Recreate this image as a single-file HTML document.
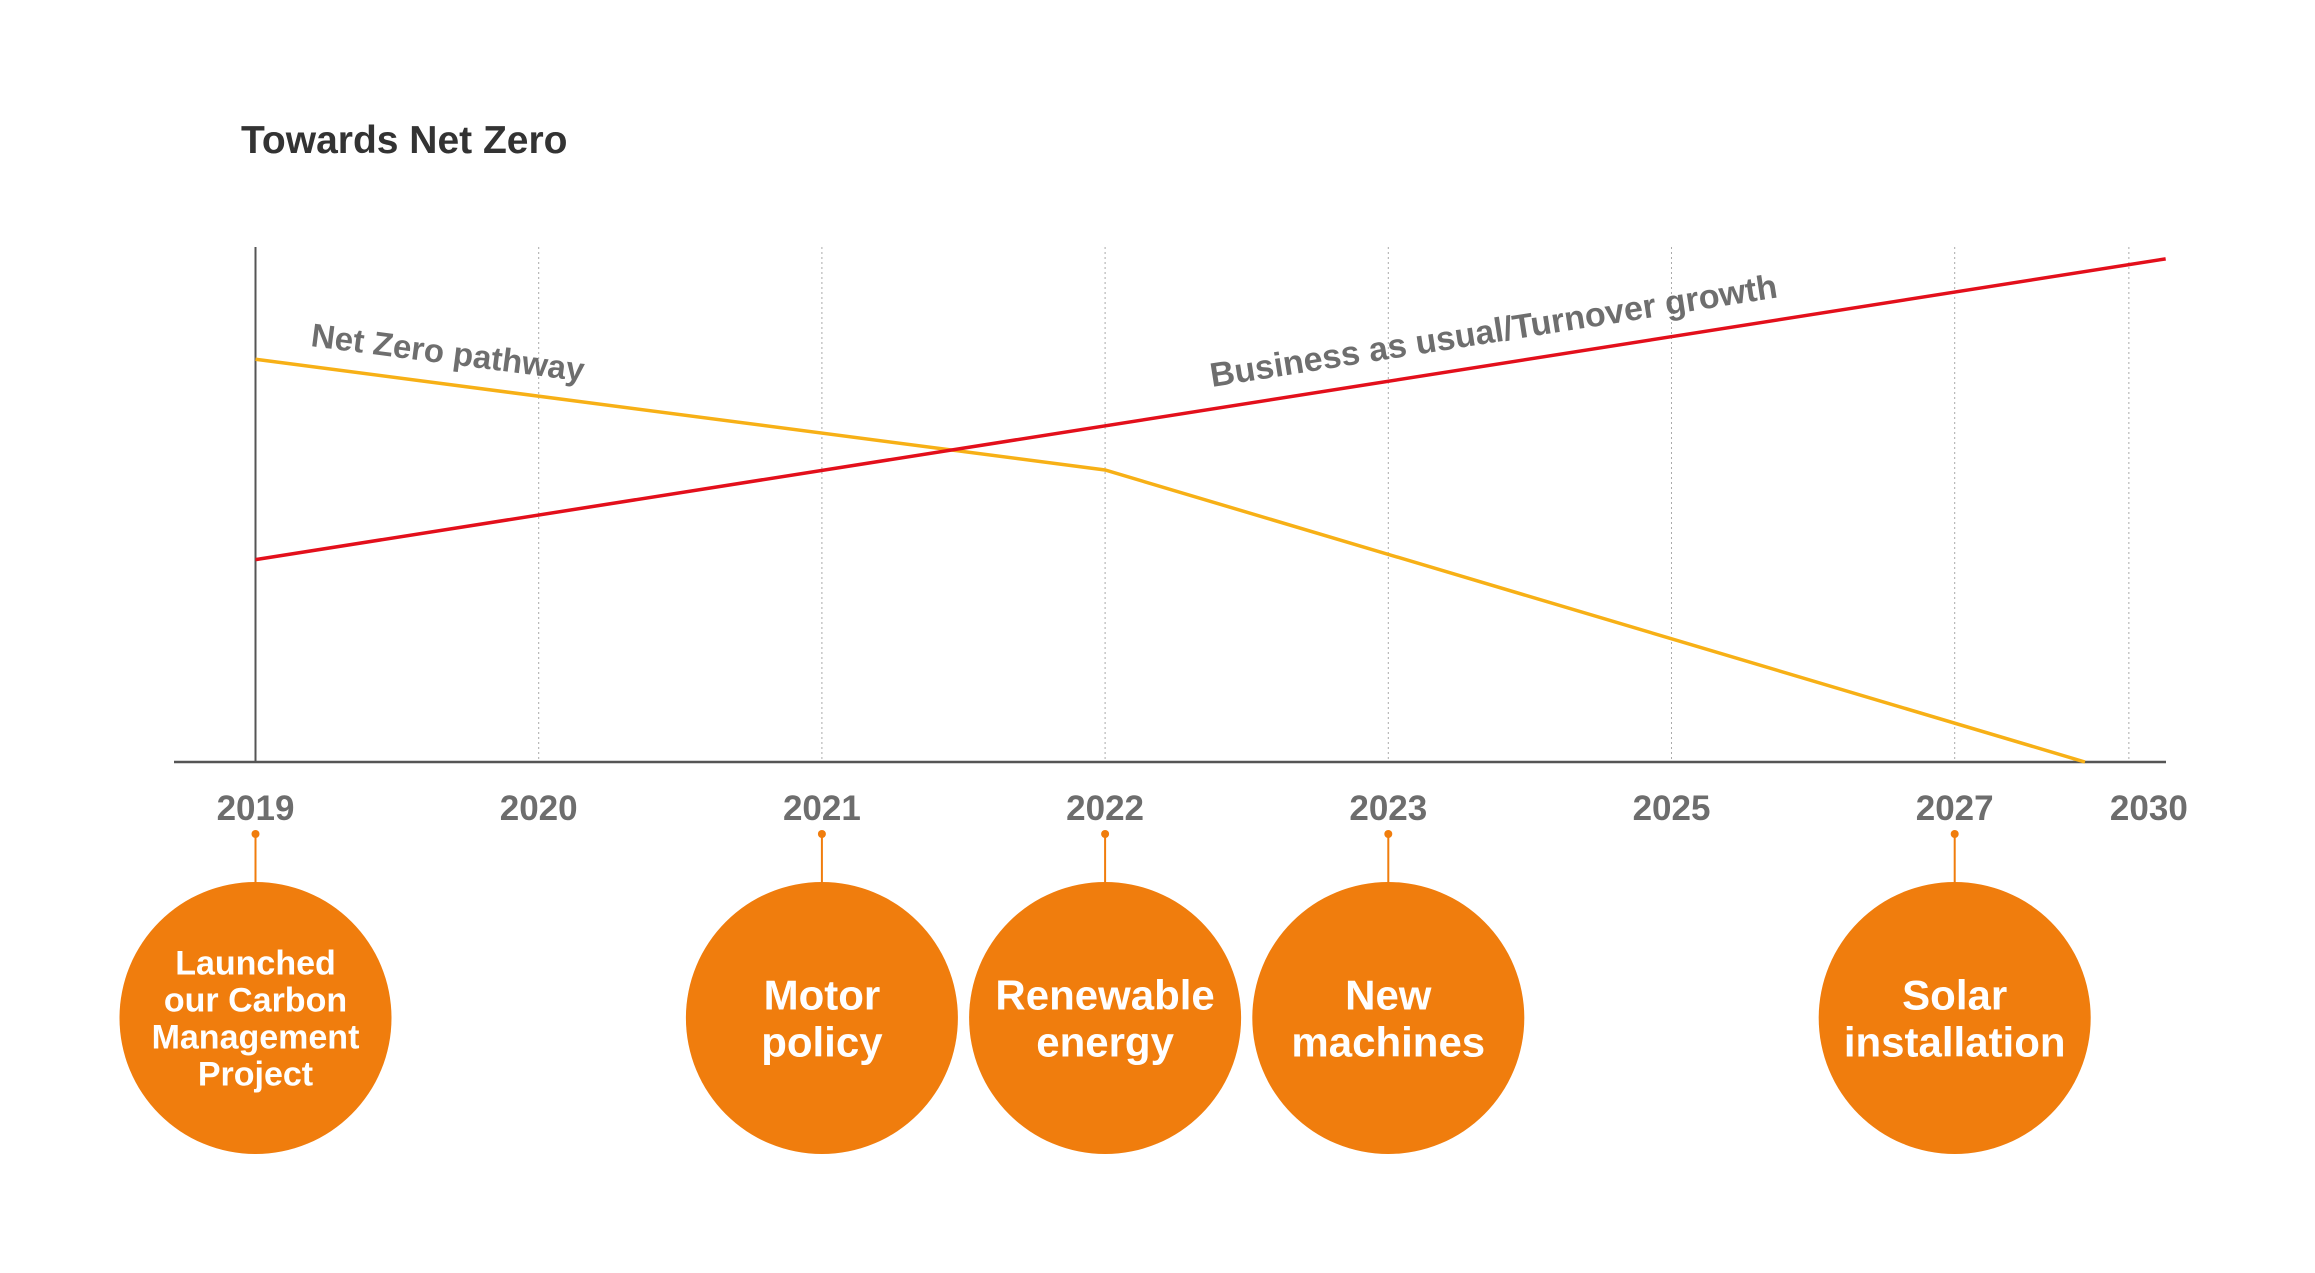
<!DOCTYPE html>
<html><head><meta charset="utf-8">
<style>
html,body{margin:0;padding:0;background:#fff;}
svg{display:block;font-family:"Liberation Sans",sans-serif;}
</style></head>
<body>
<svg id="chart" width="2315" height="1273" viewBox="0 0 2315 1273" xmlns="http://www.w3.org/2000/svg">
  <text x="241" y="153" font-size="39" font-weight="bold" fill="#333">Towards Net Zero</text>
  <g id="grid"></g>
  <g id="axes"></g>
  <g id="series"></g>
  <g id="ticks"></g>
  <g id="milestones"></g>
  <text x="310" y="346" font-size="33" font-weight="bold" fill="#6e6e6e" transform="rotate(7.4 310 346)">Net Zero pathway</text>
  <text x="1212" y="387" font-size="34" font-weight="bold" fill="#6e6e6e" transform="rotate(-9 1212 387)">Business as usual/Turnover growth</text>
</svg>
<script>
// category positions (index units) and labels
const tickLabels = ["2019","2020","2021","2022","2023","2025","2027","2030"];
const tickIndex = [0,1,2,3,4,5,6,6.615];
// Business as usual series (x in index units, y value 0-100)
const bauX = [0, 6.745];
const bauY = [39.3, 97.7];
// Net zero pathway series
const nzX = [0, 3, 6.46];
const nzY = [78.2, 56.7, 0];
// milestones
const msIndex = [0, 2, 3, 4, 6];
const msText = [["Launched","our Carbon","Management","Project"],["Motor","policy"],["Renewable","energy"],["New","machines"],["Solar","installation"]];

const NS = "http://www.w3.org/2000/svg";
const X0 = 255.5, STEP = 283.2, BASE = 762, TOP = 247;
const xs = i => X0 + i * STEP;
const ys = v => BASE - v / 100 * (BASE - TOP);
function mk(tag, attrs, parent){ const e = document.createElementNS(NS, tag); for (const k in attrs) e.setAttribute(k, attrs[k]); parent.appendChild(e); return e; }

const grid = document.getElementById('grid');
tickIndex.forEach((t, i) => {
  if (i === 0) return;
  const l = mk('line', {x1: xs(t), x2: xs(t), y1: TOP, y2: BASE, stroke: '#aaa', 'stroke-width': 1, 'stroke-dasharray': '2,3'}, grid);
  
  
});
const axes = document.getElementById('axes');
const ya = mk('line', {x1: X0, x2: X0, y1: TOP, y2: BASE, stroke: '#555', 'stroke-width': 2}, axes);


const xa = mk('line', {x1: 174, x2: 2166, y1: BASE, y2: BASE, stroke: '#555', 'stroke-width': 2.5}, axes);



const series = document.getElementById('series');
const nzPath = mk('polyline', {points: nzX.map((x, i) => xs(x) + ',' + ys(nzY[i])).join(' '), fill: 'none', stroke: '#f7b016', 'stroke-width': 3.5}, series);


const bauPath = mk('polyline', {points: bauX.map((x, i) => xs(x) + ',' + ys(bauY[i])).join(' '), fill: 'none', stroke: '#e30f1b', 'stroke-width': 3.5}, series);



const ticks = document.getElementById('ticks');
tickIndex.forEach((t, i) => {
  const x = i === tickLabels.length - 1 ? xs(t) + 20 : xs(t);
  const tx = mk('text', {x: x, y: 820, 'text-anchor': 'middle', 'font-size': 35, 'font-weight': 'bold', fill: '#6d6d6d'}, ticks);
  tx.textContent = tickLabels[i];
  
  
});

const ms = document.getElementById('milestones');
msIndex.forEach((m, i) => {
  const cx = xs(m);
  const g = mk('g', {}, ms);
  
  
  mk('line', {x1: cx, x2: cx, y1: 834, y2: 884, stroke: '#f07d0d', 'stroke-width': 2}, g);
  mk('circle', {cx: cx, cy: 834, r: 4, fill: '#f07d0d'}, g);
  mk('circle', {cx: cx, cy: 1018, r: 136, fill: '#f07d0d'}, g);
  const lines = msText[i];
  const fs = lines.length > 2 ? 34 : 42;
  const lh = lines.length > 2 ? 37 : 47;
  const y0 = 1018 - (lines.length - 1) * lh / 2 + fs * 0.36;
  lines.forEach((ln, j) => {
    const t = mk('text', {x: cx, y: y0 + j * lh, 'text-anchor': 'middle', 'font-size': fs, 'font-weight': 'bold', fill: '#fff'}, g);
    t.textContent = ln;
  });
});
</script>
</body></html>
